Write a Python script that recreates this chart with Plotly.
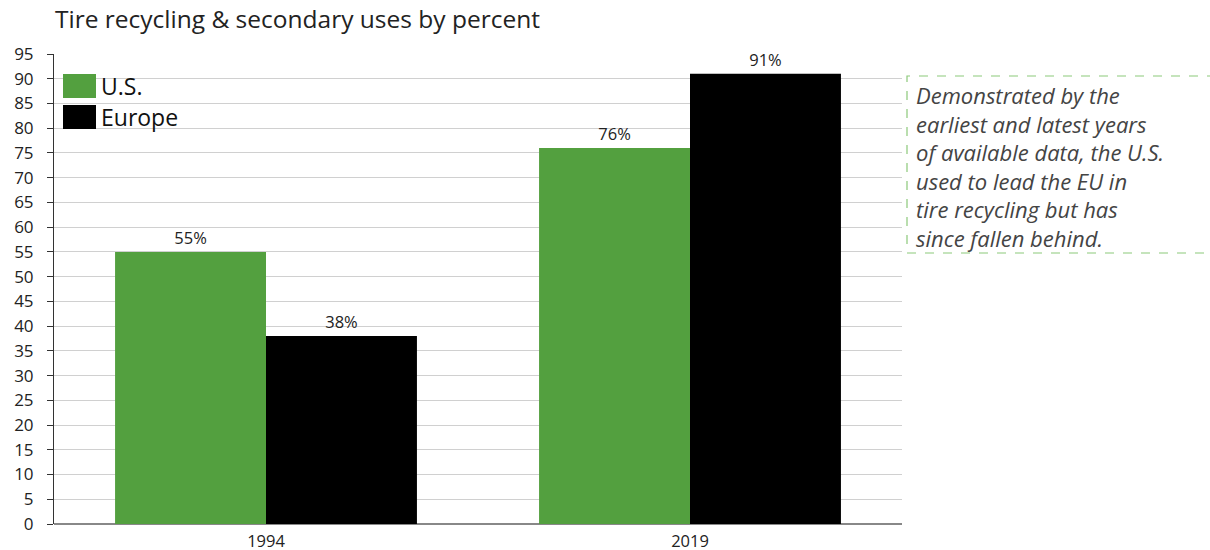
import plotly.graph_objects as go

years = ["1994", "2019"]
us_values = [55, 76]
europe_values = [38, 91]
series_names = ["U.S.", "Europe"]
series_colors = ["#53a03f", "#000000"]
y_ticks = list(range(0, 100, 5))
title_text = "Tire recycling & secondary uses by percent"
note_lines = [
    "Demonstrated by the",
    "earliest and latest years",
    "of available data, the U.S.",
    "used to lead the EU in",
    "tire recycling but has",
    "since fallen behind.",
]

FONT = "'Open Sans', sans-serif"
W, H = 1210, 550
ML, MR, MT, MB = 54, 308, 54, 26
PW = W - ML - MR
PH = H - MT - MB


def px_x(px):
    return (px - ML) / PW


def px_y(py):
    return (H - MB - py) / PH


fig = go.Figure()
for name, vals, col in zip(series_names, [us_values, europe_values], series_colors):
    fig.add_trace(go.Bar(
        x=years, y=vals, name=name, marker=dict(color=col, line=dict(width=0)),
        text=[f"{v}%" for v in vals], textposition="outside",
        textfont=dict(size=16.5, color="#222", family=FONT),
        cliponaxis=False, showlegend=False,
    ))

shapes = []
annotations = []
# manual legend
leg_tops = [74, 105]
for name, col, top in zip(series_names, series_colors, leg_tops):
    shapes.append(dict(type="rect", xref="paper", yref="paper",
                       x0=px_x(63), x1=px_x(96), y0=px_y(top + 24), y1=px_y(top),
                       fillcolor=col, line=dict(width=0), layer="above"))
    annotations.append(dict(xref="paper", yref="paper", x=px_x(99), y=px_y(top + 12),
                            xanchor="left", yanchor="middle", showarrow=False,
                            text=name, font=dict(size=23, color="#111", family=FONT)))

# note box
shapes.append(dict(type="rect", xref="paper", yref="paper",
                   x0=px_x(907), x1=px_x(1216), y0=px_y(253), y1=px_y(76),
                   line=dict(color="#8cc97a", width=1.2, dash="dash"),
                   fillcolor="rgba(0,0,0,0)", layer="above"))
annotations.append(dict(xref="paper", yref="paper", x=px_x(914), y=px_y(166),
                        xanchor="left", yanchor="middle", align="left", showarrow=False,
                        text="<br>".join(f"<i>{l}</i>" for l in note_lines),
                        font=dict(size=22, color="#444", family=FONT)))

fig.update_layout(
    width=W, height=H,
    margin=dict(l=ML, r=MR, t=MT, b=MB, pad=0, autoexpand=False),
    paper_bgcolor="white", plot_bgcolor="white",
    barmode="group", bargap=0.288, bargroupgap=0,
    font=dict(family=FONT, color="#222", size=15),
    title=dict(text=title_text, x=55 / W, xanchor="left", y=1 - 19 / H, yanchor="middle",
               font=dict(size=24.5, color="#222", family=FONT)),
    shapes=shapes, annotations=annotations,
    xaxis=dict(showgrid=False, showline=False, ticks="", automargin=False,
               tickfont=dict(size=16.5, color="#222"), ticklabelstandoff=5),
    yaxis=dict(range=[0, 95], tickvals=y_ticks, showgrid=True, gridcolor="#d0d0d0", gridwidth=1,
               showline=True, linecolor="#333", linewidth=1, ticks="outside", ticklen=6,
               tickcolor="#333", zeroline=True, zerolinecolor="#888", zerolinewidth=2,
               automargin=False, tickfont=dict(size=17, color="#222"), ticklabelstandoff=10),
)

fig.write_html("out.html", config={"displayModeBar": False},
               post_script="document.body.style.margin='0';document.body.style.overflow='hidden';")
